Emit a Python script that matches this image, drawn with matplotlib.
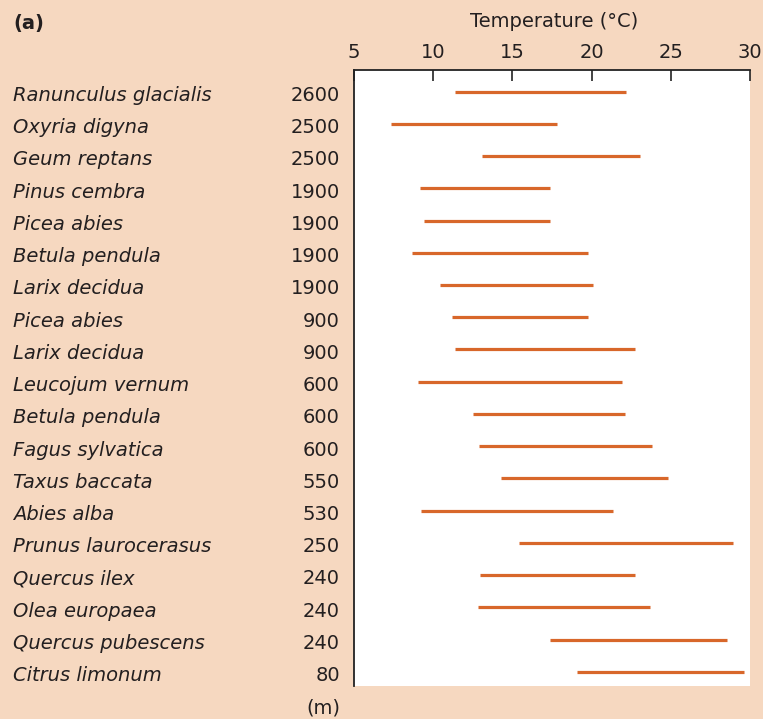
import matplotlib
matplotlib.use("Agg")
import matplotlib.pyplot as plt
from matplotlib.transforms import blended_transform_factory

species = ["Ranunculus glacialis", "Oxyria digyna", "Geum reptans", "Pinus cembra",
           "Picea abies", "Betula pendula", "Larix decidua", "Picea abies",
           "Larix decidua", "Leucojum vernum", "Betula pendula", "Fagus sylvatica",
           "Taxus baccata", "Abies alba", "Prunus laurocerasus", "Quercus ilex",
           "Olea europaea", "Quercus pubescens", "Citrus limonum"]
altitude = ["2600", "2500", "2500", "1900", "1900", "1900", "1900", "900", "900",
            "600", "600", "600", "550", "530", "250", "240", "240", "240", "80"]
t_low = [11.35, 7.35, 13.05, 9.15, 9.45, 8.65, 10.4, 11.2, 11.35, 9.05, 12.5,
         12.9, 14.3, 9.2, 15.4, 12.95, 12.8, 17.35, 19.1]
t_high = [22.2, 17.8, 23.05, 17.35, 17.35, 19.8, 20.1, 19.8, 22.75, 21.95, 22.1,
          23.8, 24.8, 21.35, 28.9, 22.75, 23.7, 28.55, 29.65]
xticks = [5, 10, 15, 20, 25, 30]

BG = "#F6D8C0"
LINE = "#D8672A"
TXT = "#231F20"

plt.rcParams["font.family"] = ["DejaVu Sans"]

W, H = 763, 719
fig = plt.figure(figsize=(W / 100, H / 100), dpi=100, facecolor=BG)
ax = fig.add_axes([354 / W, 1 - 686 / H, (750 - 354) / W, (686 - 70) / H])
ax.set_facecolor("white")

ys = list(range(len(species)))
ax.hlines(ys, t_low, t_high, color=LINE, lw=2.3)

ax.set_xlim(5, 30)
ax.set_ylim(18.44, -0.67)
ax.xaxis.tick_top()
ax.set_xticks(xticks)
ax.set_xticklabels([str(v) for v in xticks], fontsize=14, color=TXT)
ax.tick_params(axis="x", direction="in", length=8, width=1.2, pad=6, color="#222222")
ax.set_yticks([])
for s in ["right", "bottom"]:
    ax.spines[s].set_visible(False)
for s in ["top", "left"]:
    ax.spines[s].set_linewidth(1.3)
    ax.spines[s].set_color("#222222")

tr = blended_transform_factory(fig.transFigure, ax.transData)
for y, name, alt in zip(ys, species, altitude):
    ax.text(13 / W, y + 0.29, name, transform=tr, ha="left", va="baseline",
            fontsize=14, style="italic", color=TXT)
    ax.text(340 / W, y + 0.29, alt, transform=tr, ha="right", va="baseline",
            fontsize=14, color=TXT)

fig.text(340 / W, 1 - 714 / H, "(m)", ha="right", va="baseline", fontsize=14, color=TXT)
fig.text(554 / W, 1 - 27 / H, "Temperature (°C)", ha="center", va="baseline",
         fontsize=14, color=TXT)
fig.text(13 / W, 1 - 29 / H, "(a)", ha="left", va="baseline", fontsize=14,
         fontweight="bold", color=TXT)

fig.savefig("out.png", dpi=100, facecolor=BG)
